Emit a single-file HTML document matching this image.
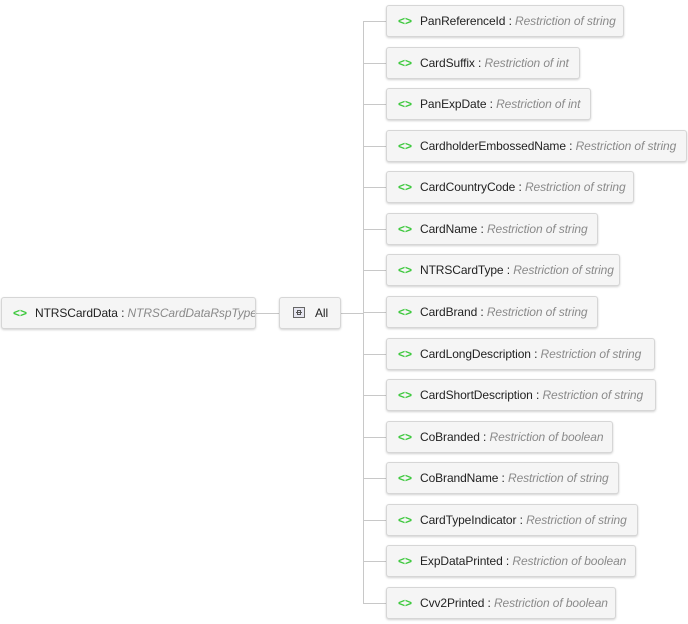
<!DOCTYPE html>
<html><head><meta charset="utf-8"><style>
body{margin:0;width:688px;height:624px;background:#fff;position:relative;overflow:hidden;font-family:"Liberation Sans",sans-serif;}
.b{position:absolute;height:31px;box-sizing:border-box;border:1px solid #d6d6d6;border-radius:3px;background:#f5f5f5;box-shadow:0 1px 2px rgba(0,0,0,0.18);white-space:nowrap;overflow:hidden;font-size:12px;line-height:29px;color:#222;letter-spacing:-0.1px}
.b .i{color:#3cc83c;font-weight:bold;font-size:12px;display:inline-block;margin-left:11px;margin-right:8px;letter-spacing:0}
.b em{color:#8a8a8a;font-style:italic}
.l{position:absolute;background:#c8c8c8}
</style></head><body>
<div class="l" style="left:256px;top:313px;width:23px;height:1px"></div>
<div class="l" style="left:341px;top:313px;width:22px;height:1px"></div>
<div class="l" style="left:363px;top:21px;width:1px;height:583px"></div>

<div class="b" style="left:1px;top:297px;width:255px;height:32px;line-height:30px"><span class="i">&lt;&gt;</span>NTRSCardData : <em>NTRSCardDataRspType</em></div>
<div class="b" style="left:279px;top:297px;width:62px;height:32px;line-height:30px;font-size:12px"><span style="display:inline-block;width:10px;height:9px;border:1px solid #666;background:#e6e6f0;margin-left:13px;margin-right:10px;vertical-align:middle;position:relative;top:-1px"><span style="position:absolute;left:2px;top:4px;width:6px;height:1px;background:#555"></span><span style="position:absolute;left:3px;top:2px;width:4px;height:5px;border:1px solid #555;box-sizing:border-box"></span></span>All</div>

<div id="rows"></div>
<script>
var d=[["PanReferenceId","string",624],["CardSuffix","int",580],["PanExpDate","int",591],["CardholderEmbossedName","string",687],["CardCountryCode","string",634],["CardName","string",598],["NTRSCardType","string",620],["CardBrand","string",598],["CardLongDescription","string",655],["CardShortDescription","string",656],["CoBranded","boolean",613],["CoBrandName","string",619],["CardTypeIndicator","string",638],["ExpDataPrinted","boolean",636],["Cvv2Printed","boolean",616]];
var h="";
d.forEach(function(r,k){var c=21+k*41.57;var t=Math.round(c-16);
h+='<div class="l" style="left:363px;top:'+Math.round(c)+'px;width:23px;height:1px"></div>';
h+='<div class="b" style="left:386px;top:'+t+'px;width:'+(r[2]-386)+'px;height:32px;line-height:30px"><span class="i">&lt;&gt;</span>'+r[0]+' : <em>Restriction of '+r[1]+'</em></div>';});
document.getElementById("rows").innerHTML=h;
</script>
</body></html>
